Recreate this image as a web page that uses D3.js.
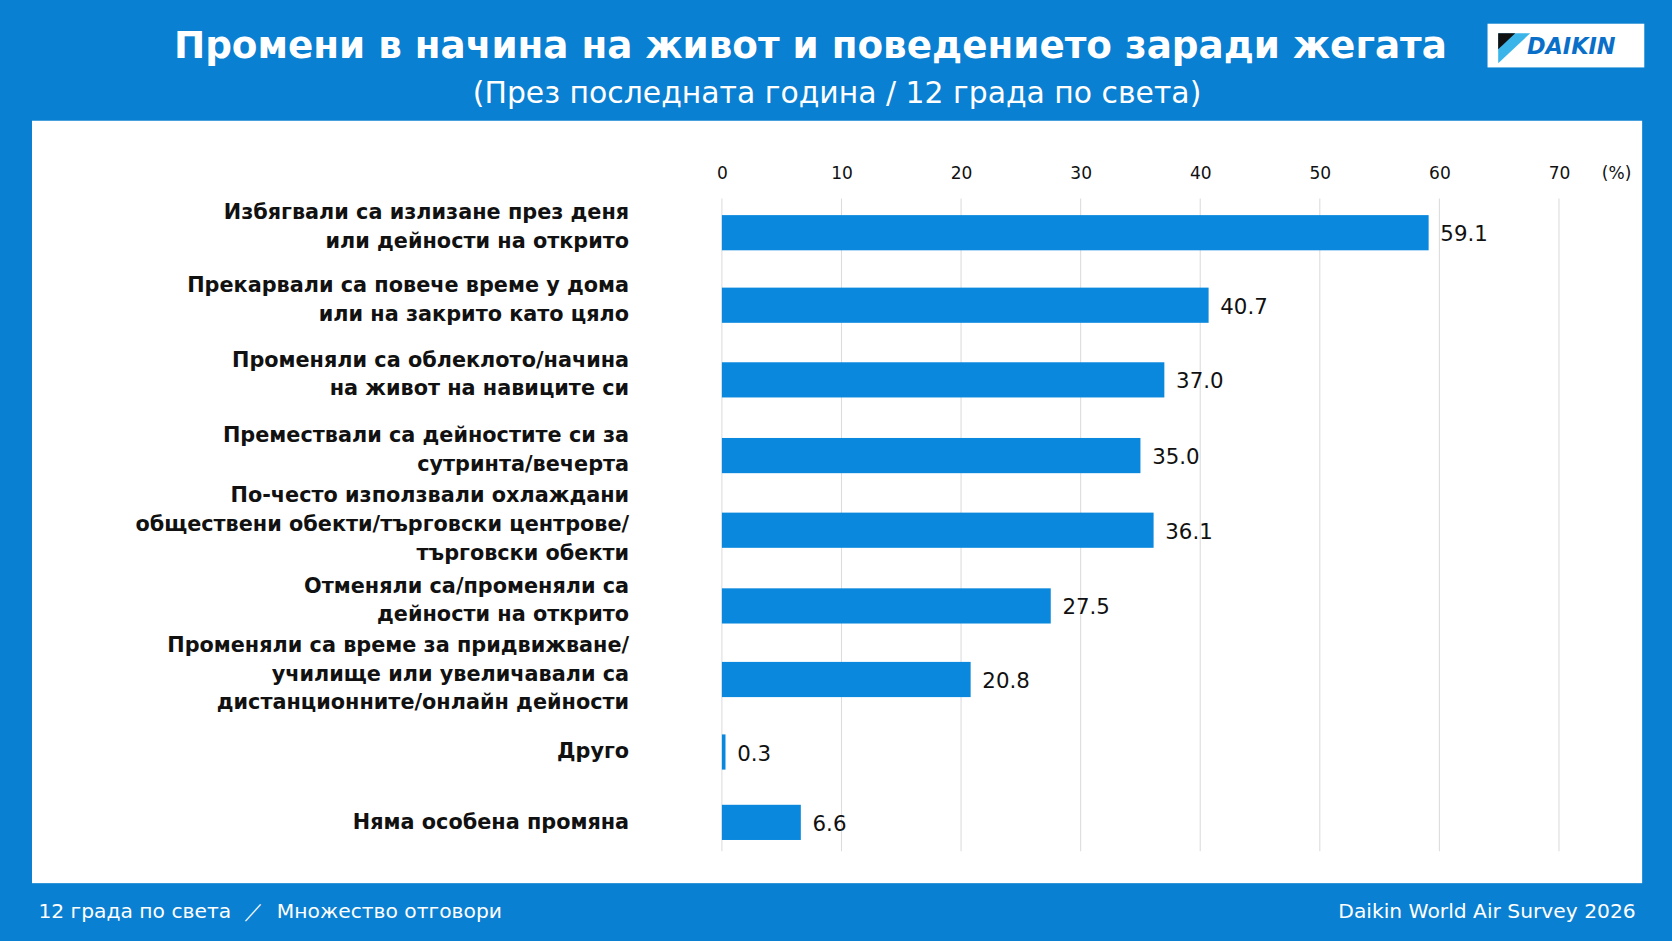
<!DOCTYPE html>
<html><head><meta charset="utf-8">
<script src="https://cdn.jsdelivr.net/npm/d3@7"></script>
<style>body{margin:0;background:#0a80d2;overflow:hidden}</style>
</head><body>
<svg id="chart" width="1672" height="941" viewBox="0 0 1568 882"></svg>
<script>
const categories = [
  ['Избягвали са излизане през деня', 'или дейности на открито'],
  ['Прекарвали са повече време у дома', 'или на закрито като цяло'],
  ['Променяли са облеклото/начина', 'на живот на навиците си'],
  ['Премествали са дейностите си за', 'сутринта/вечерта'],
  ['По-често използвали охлаждани', 'обществени обекти/търговски центрове/', 'търговски обекти'],
  ['Отменяли са/променяли са', 'дейности на открито'],
  ['Променяли са време за придвижване/', 'училище или увеличавали са', 'дистанционните/онлайн дейности'],
  ['Друго'],
  ['Няма особена промяна']
];
const values = [59.1, 40.7, 37.0, 35.0, 36.1, 27.5, 20.8, 0.3, 6.6];
const barCenters = [218, 286, 356, 427, 497, 568, 637, 705, 771];
const ticks = [0, 10, 20, 30, 40, 50, 60, 70];

const svg = d3.select('#chart');
const font = '"DejaVu Sans", Verdana, sans-serif';

// background and white panel
svg.append('rect').attr('width', 1568).attr('height', 882).attr('fill', '#0a80d2');
svg.append('rect').attr('x', 30).attr('y', 113).attr('width', 1510).attr('height', 715).attr('fill', '#fff');

// title
svg.append('text').attr('x', 760).attr('y', 54).attr('text-anchor', 'middle')
  .attr('fill', '#fff').style('font', `bold 35px ${font}`).text('Промени в начина на живот и поведението заради жегата');
svg.append('text').attr('x', 785).attr('y', 96).attr('text-anchor', 'middle')
  .attr('fill', '#fff').style('font', `28px ${font}`).text('(През последната година / 12 града по света)');

// logo
const logo = svg.append('g').attr('transform', 'translate(1395,22)');
logo.append('rect').attr('width', 147).attr('height', 41).attr('fill', '#fff');
logo.append('path').attr('d', 'M10,9 L40,9 L10,37 Z').attr('fill', '#3bb4ea');
logo.append('path').attr('d', 'M10,9 L26,9 L10,24 Z').attr('fill', '#111');
logo.append('text').attr('x', 37).attr('y', 28).attr('fill', '#0a6fc8')
  .style('font', `italic bold 21px ${font}`).text('DAIKIN');

// scales
const x = d3.scaleLinear().domain([0, 70]).range([677, 1462]);

const g = svg.append('g');
g.selectAll('.grid').data(ticks).enter().append('line')
  .attr('x1', d => x(d)).attr('x2', d => x(d)).attr('y1', 186).attr('y2', 798)
  .attr('stroke', '#dcdcdc').attr('stroke-width', 1);

const axis = g.append('g').attr('transform', 'translate(0,168)')
  .call(d3.axisTop(x).tickValues(ticks).tickSize(0).tickPadding(0));
axis.select('.domain').remove();
axis.selectAll('text').style('font', `16px ${font}`).attr('fill', '#111');
g.append('text').attr('x', 1516).attr('y', 168).attr('text-anchor', 'middle')
  .style('font', `16px ${font}`).attr('fill', '#111').text('(%)');

// bars
const bh = 33;
g.selectAll('.bar').data(values).enter().append('rect')
  .attr('x', x(0)).attr('y', (d, i) => barCenters[i] - bh / 2)
  .attr('width', d => Math.max(x(d) - x(0), 2)).attr('height', bh).attr('fill', '#0a88dd');

g.selectAll('.val').data(values).enter().append('text')
  .attr('x', d => x(d) + 11).attr('y', (d, i) => barCenters[i] + 8)
  .style('font', `20px ${font}`).attr('fill', '#111').text(d => d.toFixed(1));

// category labels
categories.forEach((lines, i) => {
  const lh = 27;
  const y0 = barCenters[i] - (lines.length - 1) * lh / 2 + 1 + (lines.length === 1 ? 5 : 0);
  const t = g.append('text').attr('text-anchor', 'end').attr('fill', '#111')
    .style('font', `bold 19.5px ${font}`);
  lines.forEach((s, j) => t.append('tspan').attr('x', 590).attr('y', y0 + j * lh).text(s));
});

// footer
svg.append('text').attr('x', 36).attr('y', 861).attr('fill', '#fff')
  .style('font', `19px ${font}`).attr('xml:space', 'preserve').text('12 града по света  ／  Множество отговори');
svg.append('text').attr('x', 1534).attr('y', 861).attr('text-anchor', 'end').attr('fill', '#fff')
  .style('font', `19px ${font}`).text('Daikin World Air Survey 2026');
</script>
</body></html>
